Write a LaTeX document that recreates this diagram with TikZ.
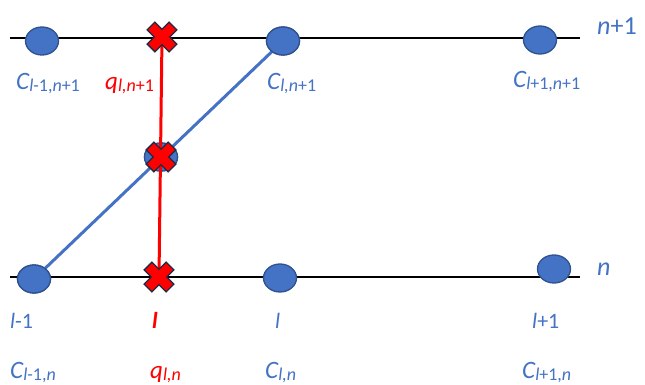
\documentclass[tikz,border=0pt]{standalone}
\usepackage{fontspec}
\setmainfont{Carlito}
\usetikzlibrary{shapes.geometric}
\definecolor{obl}{HTML}{4472C4}
\definecolor{obd}{HTML}{2F528F}
\definecolor{xnavy}{HTML}{1F2A44}
\tikzset{
  dot/.style={ellipse, draw=obd, fill=obl, line width=1.3pt, minimum width=33pt, minimum height=28pt, inner sep=0pt},
  axis/.style={black, line width=1.4pt},
  bl/.style={text=obl, font=\fontsize{25}{27}\selectfont\itshape, inner sep=0pt, anchor=base west},
  rl/.style={text=red, font=\fontsize{25}{27}\selectfont\itshape, inner sep=0pt, anchor=base west},
  sl/.style={font=\fontsize{22}{24}\selectfont\itshape},
  xmark/.pic={\filldraw[fill=red, draw=xnavy, line width=1.3pt, rotate=45]
    (5.5,15.5)--(5.5,5.5)--(15.5,5.5)--(15.5,-5.5)--(5.5,-5.5)--(5.5,-15.5)--(-5.5,-15.5)--(-5.5,-5.5)--(-15.5,-5.5)--(-15.5,5.5)--(-5.5,5.5)--(-5.5,15.5)--cycle;}
}
\newcommand{\sbx}[1]{\raisebox{-2pt}{\fontsize{18}{18}\selectfont #1}}
\begin{document}
\begin{tikzpicture}[x=1pt,y=-1pt]
\useasboundingbox (0,0) rectangle (645,385);
% axes
\coordinate (tl) at (10,38); \coordinate (tr) at (580,38);
\coordinate (bL) at (10,277); \coordinate (bR) at (580,277);
\draw[axis] (tl) -- (tr);
\draw[axis] (bL) -- (bR);
% X centres
\coordinate (xt) at (162,37);
\coordinate (xm) at (161,157);
\coordinate (xb) at (159,277);
% circles
\node[dot] (c1) at (42,41) {};
\node[dot] (c2) at (283,41) {};
\node[dot] (c3) at (540,40) {};
\node[dot] (cm) at (161,157) {};
\node[dot] (b1) at (34,279) {};
\node[dot] (b2) at (280,278) {};
\node[dot] (b3) at (554,269) {};
% connectors
\draw[obl, line width=3pt] (b1.center) -- (c2.center);
\node[dot] at (b1) {};
\node[dot] at (c2) {};
\node[dot] at (cm) {};
\draw[red, line width=3pt] (xt) -- (xb);
\pic (pxt) at (xt) {xmark};
\pic (pxm) at (xm) {xmark};
\pic (pxb) at (xb) {xmark};
% labels top
\node[bl] (lc1) at (16,90) {C\sbx{l\upshape-1,\itshape n\upshape+1}};
\node[rl] (lq1) at (105,90) {q\sbx{l,n\upshape+1}};
\node[bl] (lc2) at (267,90) {C\sbx{l,n\upshape+1}};
\node[bl] (lc3) at (513,88) {C\sbx{l\upshape+1,\itshape n\upshape+1}};
\node[bl, font=\fontsize{26}{28}\selectfont\itshape] (ln1) at (597,35) {n\upshape+1};
\node[bl, font=\fontsize{26}{28}\selectfont\itshape] (ln) at (597,275) {n};
% labels bottom
\node[bl, sl] (ll1) at (10,328) {l\upshape-1};
\node[rl, font=\fontsize{23}{24}\selectfont\bfseries\itshape] (ll) at (152,328) {l};
\node[bl, sl] (ll2) at (275,328) {l};
\node[bl, sl] (ll3) at (532,328) {l\upshape+1};
\node[bl] (lc4) at (10,378) {C\sbx{l\upshape-1,\itshape n}};
\node[rl] (lq2) at (150,378) {q\sbx{l,n}};
\node[bl] (lc5) at (265,378) {C\sbx{l,n}};
\node[bl] (lc6) at (522,378) {C\sbx{l\upshape+1,\itshape n}};
\end{tikzpicture}
\end{document}
